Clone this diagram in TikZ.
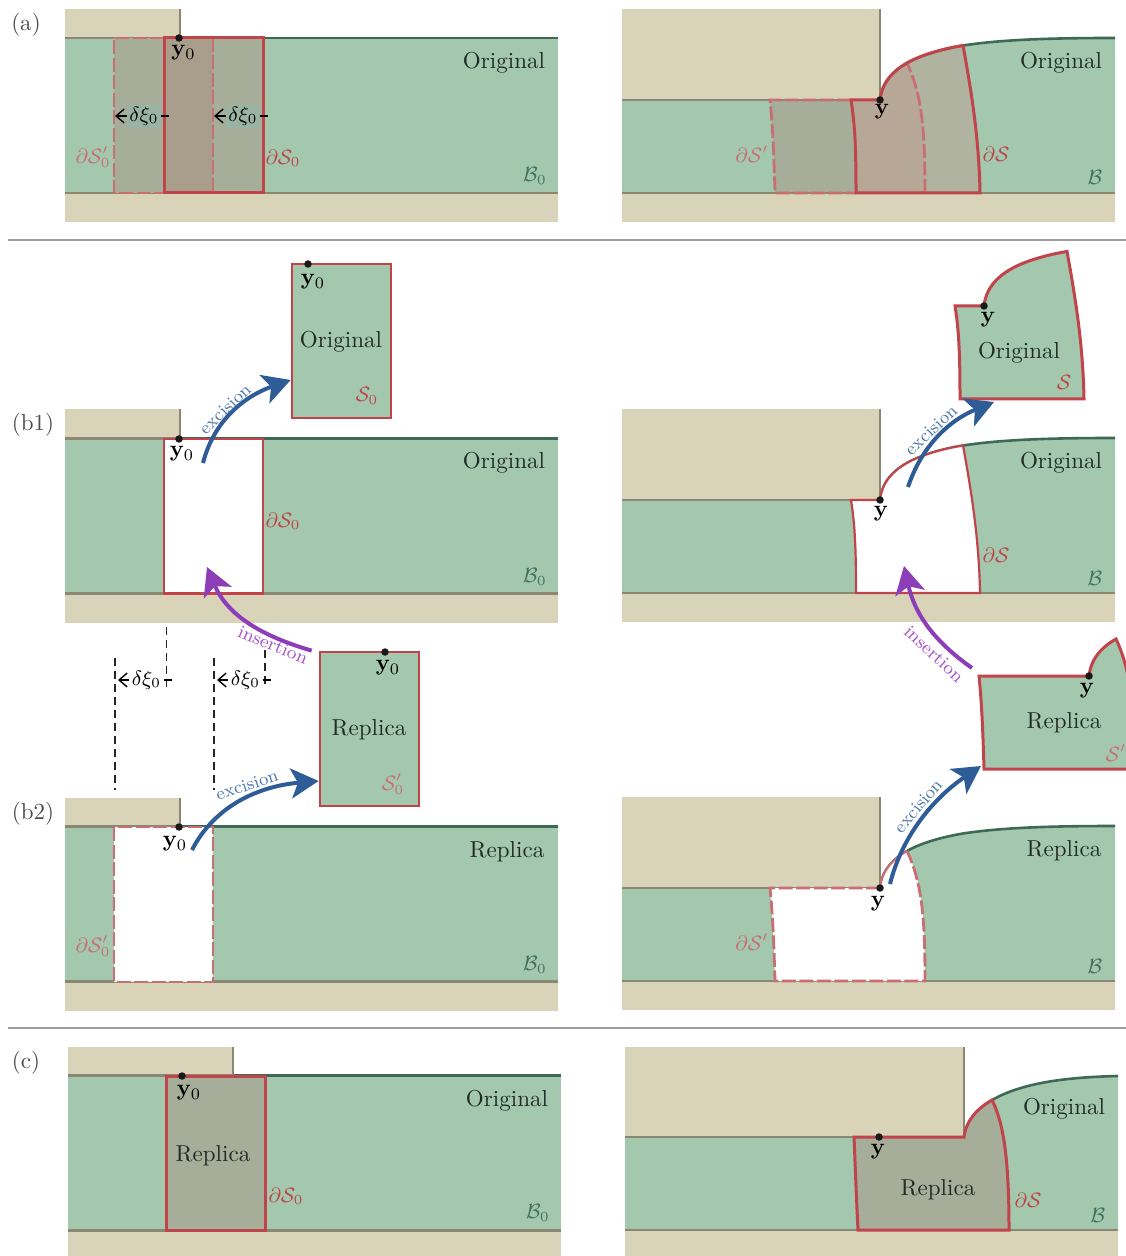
\documentclass[tikz,border=0pt]{standalone}
\usetikzlibrary{arrows.meta}
\definecolor{layer}{HTML}{A3C8AE}
\definecolor{sand}{HTML}{D8D3B9}
\definecolor{edgegreen}{HTML}{3E6A55}
\definecolor{edgegrey}{HTML}{8A8772}
\definecolor{redline}{HTML}{C0444A}
\definecolor{redpale}{HTML}{C96F74}
\definecolor{onetint}{HTML}{A6AD98}
\definecolor{bothtint}{HTML}{A99D8B}
\definecolor{curvedboth}{HTML}{B7A796}
\definecolor{curvedone}{HTML}{B0B39F}
\definecolor{arrowblue}{HTML}{2E5C96}
\definecolor{textblue}{HTML}{4F7AAE}
\definecolor{arrowpurple}{HTML}{8E3DB8}
\definecolor{textpurple}{HTML}{A653CC}
\definecolor{labelgreen}{HTML}{3F7060}
\definecolor{inkdark}{HTML}{222A26}
\definecolor{tagtint}{HTML}{9AB3A3}
\tikzset{
  mathsize/.style={font=\fontsize{9}{10}\selectfont},
  edgeline/.style={line width=2.6*0.434pt},
  redsolid/.style={draw=redline,line width=3*0.434pt,line join=miter},
  redthin/.style={draw=redline,line width=2.2*0.434pt},
  reddash/.style={draw=redpale,line width=2.8*0.434pt,dash pattern=on 14*0.434pt off 3.5*0.434pt},
  guide/.style={draw=black!85,line width=1.3*0.434pt,dash pattern=on 8*0.434pt off 5*0.434pt},
  dotmark/.style={circle,fill=black!90,inner sep=0pt,minimum size=7.5*0.434pt},
  word/.style={text=inkdark,inner sep=0pt,yshift=-0.9pt},
  redlabel/.style={text=redline,inner sep=0pt,mathsize},
  palelabel/.style={text=redpale,inner sep=0pt,mathsize},
  greenlabel/.style={text=labelgreen,inner sep=0pt,mathsize},
  ptlabel/.style={text=black,inner sep=0pt,yshift=-0.9pt},
  panellabel/.style={text=black!70,inner sep=0pt,yshift=-0.9pt},
  exciselabel/.style={text=textblue,inner sep=0pt,font=\fontsize{7.7}{9}\selectfont},
  insertlabel/.style={text=textpurple,inner sep=0pt,font=\fontsize{8}{9}\selectfont},
  blueflow/.style={draw=arrowblue,line width=4*0.434pt,-{Stealth[length=12pt,width=13pt,inset=3pt]}},
  purpleflow/.style={draw=arrowpurple,line width=4*0.434pt,-{Stealth[length=12pt,width=13pt,inset=3pt]}},
  shifttag/.style={text=black,inner sep=1pt,mathsize},
  shifttip/.style={line width=1.4*0.434pt,{Straight Barb[length=3.5pt,width=6pt]}-},
  shiftbar/.style={line width=1.2*0.434pt},
  divider/.style={draw=black!38,line width=2.6*0.434pt},
}
% curve segments of the deformed surface
\def\upA{.. controls (882,82) and (893,71) .. (907,63)}
\def\upB{.. controls (921,55) and (942,49) .. (963,45.5)}
\def\downB{.. controls (942,49) and (921,55) .. (907,63)}
\def\downA{.. controls (893,71) and (882,82) .. (880,100)}
\def\upC{.. controls (1005,39) and (1060,38) .. (1115,38)}
\def\sRight{.. controls (972,95) and (979,140) .. (980,193)}
\def\sRightUp{.. controls (979,140) and (972,95) .. (963,45.5)}
\def\sLeftDown{.. controls (855,125) and (856,150) .. (856,193)}
\def\dashUp{.. controls (925,130) and (922,95) .. (907,63)}
\def\primeDown{.. controls (773,130) and (774,160) .. (775,193)}
\newcommand\leftbody[3]{%
  \begin{scope}[shift={(#1,#2)}]
    \fill[sand] (65,9) rectangle (#3,38);
    \fill[sand] (65,193) rectangle (557.5,222);
    \fill[layer] (65,38) rectangle (557.5,193);
    \draw[edgegreen,edgeline] (#3,38) -- (557.5,38);
    \draw[edgegrey,edgeline] (65,38) -- (#3,38) (#3,9) -- (#3,38);
    \draw[edgegrey,edgeline] (65,193) -- (557.5,193);
  \end{scope}}
\newcommand\rightbody[1]{%
  \begin{scope}[shift={(0,#1)}]
    \fill[sand] (622,9) rectangle (880,100);
    \fill[sand] (622,193) rectangle (1115,222);
    \fill[layer] (622,100) -- (880,100) \upA \upB \upC -- (1115,193) -- (622,193) -- cycle;
  \end{scope}}
\newcommand\rightedges[1]{%
  \begin{scope}[shift={(0,#1)}]
    \draw[edgegreen,edgeline] (880,100) \upA \upB \upC;
    \draw[edgegrey,edgeline] (622,100) -- (880,100) (880,9) -- (880,100);
    \draw[edgegrey,edgeline] (622,193) -- (1115,193);
  \end{scope}}
\begin{document}
\begin{tikzpicture}[x=0.434pt,y=-0.434pt]
\useasboundingbox (0,0) rectangle (1126,1256);
\clip (0,0) rectangle (1126,1256);
\fill[white] (0,0) rectangle (1126,1256);

% ---------- dividers
\coordinate (d1a) at (8,240); \coordinate (d1b) at (1126,240);
\coordinate (d2a) at (8,1028); \coordinate (d2b) at (1126,1028);
\draw[divider] (d1a) -- (d1b);
\draw[divider] (d2a) -- (d2b);

% ---------- panel (a), left
\leftbody{0}{0}{180}
\fill[onetint] (114,38) rectangle (263,193);
\fill[bothtint] (164,38) rectangle (213,193);
\draw[reddash] (164,38) -- (114,38) -- (114,193) -- (164,193);
\draw[reddash] (213,38) -- (213,193);
\draw[redsolid] (164,38) rectangle (263,193);
\node[dotmark] (ay0) at (179,38) {};
\node[ptlabel] at (183.5,51) (ay0t) {$\mathbf{y}_0$};
\node[word] (aorigL) at (504,61) {Original};
\node[redlabel] (adsL) at (283,158) {$\partial\mathcal{S}_0$};
\node[palelabel] (adspL) at (93,157) {$\partial\mathcal{S}'_0$};
\node[greenlabel] (abL) at (535,176) {$\mathcal{B}_0$};
\node[shifttag,fill=tagtint] (atag1) at (144,116) {$\delta\xi_0$};
\node[shifttag,fill=tagtint] (atag2) at (243,116) {$\delta\xi_0$};
\coordinate (atip1) at (115,116); \coordinate (atip2) at (214,116);
\coordinate (aend1) at (169,116); \coordinate (aend2) at (268,116);
\draw[shifttip] (atip1) -- (atag1);
\draw[shifttip] (atip2) -- (atag2);
\draw[shiftbar] (atag1) -- (aend1);
\draw[shiftbar] (atag2) -- (aend2);

% ---------- panel (a), right
\rightbody{0}
\fill[onetint] (770,100) \primeDown -- (856,193) -- (851,100) -- cycle;
\fill[curvedboth] (851,100) \sLeftDown -- (925,193) \dashUp \downA -- cycle;
\fill[curvedone] (925,193) \dashUp \upB \sRight -- cycle;
\rightedges{0}
\draw[reddash] (851,100) -- (770,100) \primeDown -- (856,193);
\draw[reddash] (925,193) \dashUp;
\draw[redsolid] (880,100) -- (851,100) \sLeftDown -- (980,193) \sRightUp \downB \downA;
\node[dotmark] (ay) at (880,100) {};
\node[ptlabel] (ayt) at (882,110) {$\mathbf{y}$};
\node[word] (aorigR) at (1061,61) {Original};
\node[palelabel] (adspR) at (752,154) {$\partial\mathcal{S}'$};
\node[redlabel] (adsR) at (996,154) {$\partial\mathcal{S}$};
\node[greenlabel] (abR) at (1095,177) {$\mathcal{B}$};

% ---------- panel (b1), left
\leftbody{0}{400.5}{180}
\fill[white] (164,439) rectangle (263,593.5);
\draw[redthin] (164,439) rectangle (263,593.5);
\node[dotmark] (by0) at (179,439) {};
\node[ptlabel] (by0t) at (182,452) {$\mathbf{y}_0$};
\node[word] (borigL) at (504,461) {Original};
\node[redlabel] (bdsL) at (283,521) {$\partial\mathcal{S}_0$};
\node[greenlabel] (bbL) at (535,577) {$\mathcal{B}_0$};
% excised piece
\node[draw=redline,line width=2.7*0.434pt,fill=layer,minimum width=99*0.434pt,minimum height=154*0.434pt,inner sep=0pt] (pieceS0) at (341.5,341) {};
\node[dotmark] (py0) at (308,264) {};
\node[ptlabel] (py0t) at (313,280) {$\mathbf{y}_0$};
\node[word] (porig) at (341,340) {Original};
\node[redlabel] (pS0) at (367,396) {$\mathcal{S}_0$};
\coordinate (exb1s) at (203,463);
\draw[blueflow] (exb1s) .. controls (214,420) and (245,396) .. (pieceS0.west |- 0,380);
\node[exciselabel,rotate=44] (exb1t) at (225,409) {excision};

% ---------- panel (b1), right
\rightbody{400}
\rightedges{400}
\begin{scope}[shift={(0,400)}]
\fill[white] (851,100) \sLeftDown -- (980,193) \sRightUp \downB \downA -- cycle;
\draw[redthin] (880,100) -- (851,100) \sLeftDown -- (980,193) \sRightUp \downB \downA;
\end{scope}
\node[dotmark] (b1y) at (880,500) {};
\node[ptlabel] (b1yt) at (881,512) {$\mathbf{y}$};
\node[word] (borigR) at (1061,461) {Original};
\node[redlabel] (bdsR) at (996,555) {$\partial\mathcal{S}$};
\node[greenlabel] (bbR) at (1095,578) {$\mathcal{B}$};
\begin{scope}[shift={(104,206)}]
\fill[layer] (851,100) \sLeftDown -- (980,193) \sRightUp \downB \downA -- cycle;
\draw[redsolid] (880,100) -- (851,100) \sLeftDown -- (980,193) \sRightUp \downB \downA;
\end{scope}
\node[dotmark] (py) at (984,306) {};
\node[ptlabel] (pyt) at (988,318) {$\mathbf{y}$};
\node[word] (porigR) at (1019,351) {Original};
\node[redlabel] (pS) at (1064,382) {$\mathcal{S}$};
\coordinate (exb1Rs) at (908,487); \coordinate (exb1Re) at (994,402);
\draw[blueflow] (exb1Rs) .. controls (922,445) and (950,420) .. (exb1Re);
\node[exciselabel,rotate=43] (exb1Rt) at (931,430) {excision};

% ---------- guides between (b1) and (b2)
\coordinate (g1a) at (115,658); \coordinate (g1b) at (115,790);
\coordinate (g2a) at (214,658); \coordinate (g2b) at (214,790);
\coordinate (g3a) at (166.5,627); \coordinate (g3b) at (166.5,688);
\coordinate (g4a) at (265,650); \coordinate (g4b) at (265,688);
\draw[guide] (g1a) -- (g1b);
\draw[guide] (g2a) -- (g2b);
\draw[guide] (g3a) -- (g3b);
\draw[guide] (g4a) -- (g4b);
\node[shifttag] (gtag1) at (146.5,680) {$\delta\xi_0$};
\node[shifttag] (gtag2) at (245.5,680) {$\delta\xi_0$};
\coordinate (gtip1) at (118,680); \coordinate (gtip2) at (217,680);
\coordinate (gend1) at (172,680); \coordinate (gend2) at (271,680);
\draw[shifttip] (gtip1) -- (gtag1);
\draw[shifttip] (gtip2) -- (gtag2);
\draw[shiftbar] (gtag1) -- (gend1);
\draw[shiftbar] (gtag2) -- (gend2);

% ---------- panel (b2), left
\leftbody{0}{788.5}{180}
\fill[white] (114,827) rectangle (213,982);
\draw[reddash] (114,827) rectangle (213,982);
\node[dotmark] (cy0) at (179,827) {};
\node[ptlabel] (cy0t) at (175,842) {$\mathbf{y}_0$};
\node[word] (corigL) at (507,850) {Replica};
\node[palelabel] (cdspL) at (93,946) {$\partial\mathcal{S}'_0$};
\node[greenlabel] (cbL) at (535,965) {$\mathcal{B}_0$};
\node[draw=redline,line width=2.7*0.434pt,fill=layer,minimum width=99*0.434pt,minimum height=154*0.434pt,inner sep=0pt] (pieceSp0) at (369.5,729) {};
\node[dotmark] (ry0) at (385,652) {};
\node[ptlabel] (ry0t) at (388,666) {$\mathbf{y}_0$};
\node[word] (rrep) at (369,728) {Replica};
\node[palelabel] (rSp0) at (393,784) {$\mathcal{S}'_0$};
\coordinate (exb2s) at (192,850);
\draw[blueflow] (exb2s) .. controls (215,805) and (260,786) .. (pieceSp0.west |- 0,781);
\node[exciselabel,rotate=18] (exb2t) at (247,785) {excision};
\coordinate (inLe) at (207,567);
\draw[purpleflow] (pieceSp0.north west) ++(-7,0) .. controls (265,637) and (228,617) .. (inLe);
\node[insertlabel,rotate=-23] (inLt) at (273,645) {insertion};

% ---------- panel (b2), right
\rightbody{788}
\rightedges{788}
\begin{scope}[shift={(0,788)}]
\fill[white] (880,100) -- (770,100) \primeDown -- (925,193) \dashUp \downA -- cycle;
\draw[reddash] (880,100) -- (770,100) \primeDown -- (925,193) \dashUp;
\draw[draw=redpale,line width=2.2*0.434pt] (880,100) \upA;
\end{scope}
\node[dotmark] (cy) at (880,888) {};
\node[ptlabel] (cyt) at (878,902) {$\mathbf{y}$};
\node[word] (crepR) at (1064,849) {Replica};
\node[palelabel] (cdspR) at (752,942) {$\partial\mathcal{S}'$};
\node[greenlabel] (cbR) at (1095,966) {$\mathcal{B}$};
\begin{scope}[shift={(209,576)}]
\fill[layer] (880,100) -- (770,100) \primeDown -- (925,193) \dashUp \downA -- cycle;
\draw[redsolid] (880,100) -- (770,100) \primeDown -- (925,193) \dashUp \downA;
\end{scope}
\node[dotmark] (ry) at (1089,676) {};
\node[ptlabel] (ryt) at (1087,689) {$\mathbf{y}$};
\node[word] (rrepR) at (1064,721) {Replica};
\node[palelabel] (rSp) at (1116,753) {$\mathcal{S}'$};
\coordinate (exb2Rs) at (890,884); \coordinate (exb2Re) at (981,766);
\draw[blueflow] (exb2Rs) .. controls (902,835) and (935,797) .. (exb2Re);
\node[exciselabel,rotate=50] (exb2Rt) at (918,806) {excision};
\coordinate (inRs) at (972,668); \coordinate (inRe) at (904,566);
\draw[purpleflow] (inRs) .. controls (935,642) and (915,615) .. (inRe);
\node[insertlabel,rotate=-43] (inRt) at (934,654) {insertion};

% ---------- panel (c), left
\leftbody{3}{1037.5}{230}
\fill[onetint] (166,1076) rectangle (265,1230.5);
\draw[redsolid] (166,1076) rectangle (265,1230.5);
\node[dotmark] (dy0) at (182,1076) {};
\node[ptlabel] (dy0t) at (189,1091) {$\mathbf{y}_0$};
\node[word] (dorigL) at (507,1099) {Original};
\node[word] (drepL) at (213,1154) {Replica};
\node[redlabel] (ddsL) at (286,1196) {$\partial\mathcal{S}_0$};
\node[greenlabel] (dbL) at (538,1213) {$\mathcal{B}_0$};

% ---------- panel (c), right
\fill[sand] (625,1047) rectangle (964,1137);
\fill[sand] (625,1230) rectangle (1118,1256);
\fill[layer] (625,1137) -- (964,1137) .. controls (966,1120) and (978,1108) .. (992,1100) .. controls (1025,1081) and (1075,1077) .. (1118,1076) -- (1118,1230) -- (625,1230) -- cycle;
\fill[onetint] (854,1137) -- (964,1137) .. controls (966,1120) and (978,1108) .. (992,1100) .. controls (1003,1122) and (1009,1155) .. (1009,1230) -- (858,1230) .. controls (856,1190) and (855,1160) .. (854,1137) -- cycle;
\draw[edgegreen,edgeline] (992,1100) .. controls (1025,1081) and (1075,1077) .. (1118,1076);
\draw[edgegrey,edgeline] (625,1137) -- (854,1137) (964,1047) -- (964,1137);
\draw[edgegrey,edgeline] (625,1230) -- (1118,1230);
\draw[redsolid] (964,1137) .. controls (966,1120) and (978,1108) .. (992,1100) .. controls (1003,1122) and (1009,1155) .. (1009,1230) -- (858,1230) .. controls (856,1190) and (855,1160) .. (854,1137) -- cycle;
\node[dotmark] (dy) at (879,1137) {};
\node[ptlabel] (dyt) at (878,1150) {$\mathbf{y}$};
\node[word] (dorigR) at (1064,1107) {Original};
\node[word] (drepR) at (938,1188) {Replica};
\node[redlabel] (ddsR) at (1028,1200) {$\partial\mathcal{S}$};
\node[greenlabel] (dbR) at (1098,1215) {$\mathcal{B}$};

% ---------- panel letters
\node[panellabel] (la) at (26,23) {(a)};
\node[panellabel] (lb1) at (33,423) {(b1)};
\node[panellabel] (lb2) at (33,812) {(b2)};
\node[panellabel] (lc) at (26,1061) {(c)};
\end{tikzpicture}
\end{document}
